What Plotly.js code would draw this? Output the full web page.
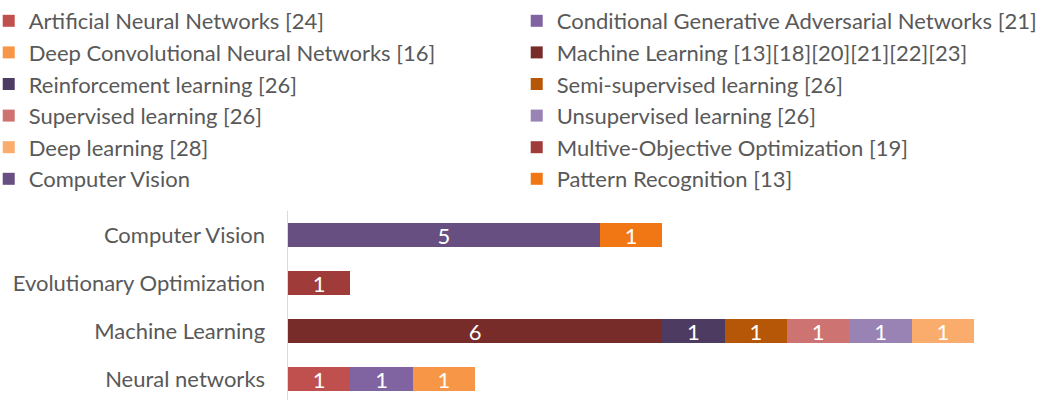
<!DOCTYPE html>
<html>
<head>
<meta charset="utf-8">
<script src="https://cdn.plot.ly/plotly-3.0.1.min.js"></script>
<style>html,body{margin:0;padding:0;background:#fff;}#chart{width:1054px;height:400px;}</style>
</head>
<body>
<div id="chart"></div>
<script>
// Categories (bottom to top in plot order)
const categories = ["Neural networks", "Machine Learning", "Evolutionary Optimization", "Computer Vision"];

// Series names (legend order)
const seriesNames = [
  "Artificial Neural Networks [24]",
  "Conditional Generative Adversarial Networks [21]",
  "Deep Convolutional Neural Networks [16]",
  "Machine Learning [13][18][20][21][22][23]",
  "Reinforcement learning [26]",
  "Semi-supervised learning [26]",
  "Supervised learning [26]",
  "Unsupervised learning [26]",
  "Deep learning [28]",
  "Multive-Objective Optimization [19]",
  "Computer Vision",
  "Pattern Recognition [13]"
];

// Values per series, aligned with categories
const annValues    = [1, null, null, null];
const cganValues   = [1, null, null, null];
const dcnnValues   = [1, null, null, null];
const mlValues     = [null, 6, null, null];
const rlValues     = [null, 1, null, null];
const semiValues   = [null, 1, null, null];
const supValues    = [null, 1, null, null];
const unsupValues  = [null, 1, null, null];
const dlValues     = [null, 1, null, null];
const mooValues    = [null, null, 1, null];
const cvValues     = [null, null, null, 5];
const prValues     = [null, null, null, 1];

const seriesValues = [annValues, cganValues, dcnnValues, mlValues, rlValues, semiValues,
                      supValues, unsupValues, dlValues, mooValues, cvValues, prValues];

const colors = ["#C0504D", "#8064A2", "#F79646", "#772C2A", "#4D3B62", "#B65708",
                "#CD7371", "#9982B4", "#F9AC6C", "#9F3B38", "#674F82", "#F07714"];

const FONT = "Lato, 'Open Sans', sans-serif";

const traces = seriesNames.map((name, i) => ({
  type: "bar",
  orientation: "h",
  name: name,
  y: categories,
  x: seriesValues[i],
  marker: {color: colors[i], line: {width: 0}},
  text: seriesValues[i].map(v => v == null ? "" : String(v)),
  textposition: "inside",
  insidetextanchor: "middle",
  textangle: 0,
  constraintext: "none",
  textfont: {color: "#FFFFFF", size: 22, family: FONT},
  hoverinfo: "skip"
}));

const layout = {
  width: 1054,
  height: 400,
  margin: {l: 288, r: 0, t: 211, b: 0, pad: 0, autoexpand: false},
  paper_bgcolor: "#FFFFFF",
  plot_bgcolor: "#FFFFFF",
  barmode: "stack",
  bargap: 0.48,
  showlegend: true,
  hovermode: false,
  font: {family: FONT, color: "#595959", size: 22},
  legend: {
    orientation: "h",
    xref: "paper",
    yref: "paper",
    x: -0.3907,
    y: 2.1164,
    xanchor: "left",
    yanchor: "top",
    traceorder: "normal",
    entrywidth: 483,
    entrywidthmode: "pixels",
    font: {family: FONT, color: "#595959", size: 22},
    bgcolor: "rgba(0,0,0,0)",
    tracegroupgap: 0
  },
  xaxis: {
    range: [0, 12.28],
    showgrid: false,
    zeroline: false,
    showticklabels: false,
    ticks: "",
    showline: false,
    fixedrange: true
  },
  yaxis: {
    type: "category",
    categoryorder: "array",
    categoryarray: categories,
    range: [-0.4375, 3.5],
    showgrid: false,
    zeroline: false,
    showline: true,
    linecolor: "#D9D9D9",
    linewidth: 1.5,
    ticks: "",
    ticklabelstandoff: 17,
    tickfont: {family: FONT, color: "#595959", size: 22},
    fixedrange: true
  }
};

Plotly.newPlot("chart", traces, layout, {displayModeBar: false, staticPlot: true});
</script>
</body>
</html>
